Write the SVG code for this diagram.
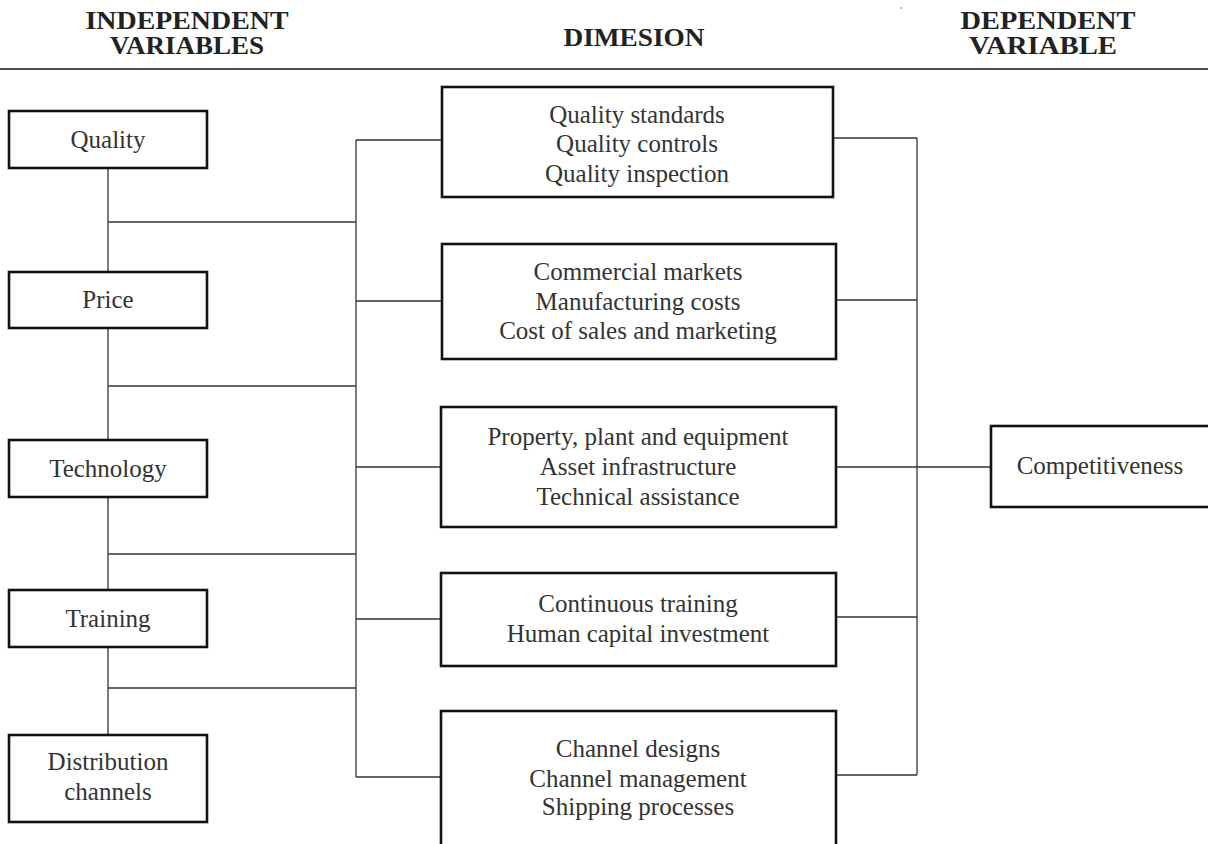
<svg xmlns="http://www.w3.org/2000/svg" width="1208" height="844" viewBox="0 0 1208 844">
  <style>
    .hdr { font-family: "Liberation Serif", "Times New Roman", serif; font-weight: bold; font-size: 25px; fill: #222; text-anchor: middle; }
    .lbl { font-family: "Liberation Serif", "Times New Roman", serif; font-size: 25px; fill: #333; text-anchor: middle; }
    .box { fill: #fff; stroke: #111; stroke-width: 2.6; }
    .con { fill: none; stroke: #333; stroke-width: 1.3; }
    .rule { stroke: #111; stroke-width: 1.4; }
  </style>
  <rect x="0" y="0" width="1208" height="844" fill="#fff"/>

  <g id="header">
    <text class="hdr" x="187" y="29" textLength="203" lengthAdjust="spacingAndGlyphs">INDEPENDENT</text>
    <text class="hdr" x="187" y="54" textLength="154" lengthAdjust="spacingAndGlyphs">VARIABLES</text>
    <text class="hdr" x="634" y="46" textLength="141" lengthAdjust="spacingAndGlyphs">DIMESION</text>
    <text class="hdr" x="1048" y="29" textLength="175" lengthAdjust="spacingAndGlyphs">DEPENDENT</text>
    <text class="hdr" x="1043" y="54" textLength="148" lengthAdjust="spacingAndGlyphs">VARIABLE</text>
    <line class="rule" x1="0" y1="69" x2="1208" y2="69"/>
    <circle cx="901" cy="8" r="0.8" fill="#666"/>
  </g>

  <g id="connectors">
    <!-- left spine -->
    <line class="con" x1="108" y1="168" x2="108" y2="272"/>
    <line class="con" x1="108" y1="328" x2="108" y2="440"/>
    <line class="con" x1="108" y1="497" x2="108" y2="590"/>
    <line class="con" x1="108" y1="647" x2="108" y2="735"/>
    <!-- left horizontals to bus -->
    <line class="con" x1="108" y1="222" x2="356" y2="222"/>
    <line class="con" x1="108" y1="386" x2="356" y2="386"/>
    <line class="con" x1="108" y1="554" x2="356" y2="554"/>
    <line class="con" x1="108" y1="688" x2="356" y2="688"/>
    <!-- bus -->
    <line class="con" x1="356" y1="140" x2="356" y2="777"/>
    <line class="con" x1="356" y1="140" x2="442" y2="140"/>
    <line class="con" x1="356" y1="301" x2="442" y2="301"/>
    <line class="con" x1="356" y1="467" x2="441" y2="467"/>
    <line class="con" x1="356" y1="619" x2="441" y2="619"/>
    <line class="con" x1="356" y1="777" x2="441" y2="777"/>
    <!-- right bus -->
    <line class="con" x1="833" y1="138" x2="917" y2="138"/>
    <line class="con" x1="836" y1="300" x2="917" y2="300"/>
    <line class="con" x1="836" y1="467" x2="991" y2="467"/>
    <line class="con" x1="836" y1="617" x2="917" y2="617"/>
    <line class="con" x1="836" y1="775" x2="917" y2="775"/>
    <line class="con" x1="917" y1="138" x2="917" y2="775"/>
  </g>

  <g id="quality">
    <rect class="box" x="9" y="111" width="198" height="57"/>
    <text class="lbl" x="108" y="148">Quality</text>
  </g>
  <g id="price">
    <rect class="box" x="9" y="272" width="198" height="56"/>
    <text class="lbl" x="108" y="308">Price</text>
  </g>
  <g id="technology">
    <rect class="box" x="9" y="440" width="198" height="57"/>
    <text class="lbl" x="108" y="477">Technology</text>
  </g>
  <g id="training">
    <rect class="box" x="9" y="590" width="198" height="57"/>
    <text class="lbl" x="108" y="627">Training</text>
  </g>
  <g id="distribution">
    <rect class="box" x="9" y="735" width="198" height="87"/>
    <text class="lbl" x="108" y="770">Distribution</text>
    <text class="lbl" x="108" y="800">channels</text>
  </g>

  <g id="dim-quality">
    <rect class="box" x="442" y="87" width="391" height="110"/>
    <text class="lbl" x="637" y="123">Quality standards</text>
    <text class="lbl" x="637" y="152">Quality controls</text>
    <text class="lbl" x="637" y="182">Quality inspection</text>
  </g>
  <g id="dim-price">
    <rect class="box" x="442" y="244" width="394" height="115"/>
    <text class="lbl" x="638" y="280">Commercial markets</text>
    <text class="lbl" x="638" y="310">Manufacturing costs</text>
    <text class="lbl" x="638" y="339">Cost of sales and marketing</text>
  </g>
  <g id="dim-technology">
    <rect class="box" x="441" y="407" width="395" height="120"/>
    <text class="lbl" x="638" y="445">Property, plant and equipment</text>
    <text class="lbl" x="638" y="475">Asset infrastructure</text>
    <text class="lbl" x="638" y="505">Technical assistance</text>
  </g>
  <g id="dim-training">
    <rect class="box" x="441" y="573" width="395" height="93"/>
    <text class="lbl" x="638" y="612">Continuous training</text>
    <text class="lbl" x="638" y="642">Human capital investment</text>
  </g>
  <g id="dim-distribution">
    <rect class="box" x="441" y="711" width="395" height="145"/>
    <text class="lbl" x="638" y="757">Channel designs</text>
    <text class="lbl" x="638" y="787">Channel management</text>
    <text class="lbl" x="638" y="815">Shipping processes</text>
  </g>

  <g id="competitiveness">
    <rect class="box" x="991" y="426" width="230" height="81"/>
    <text class="lbl" x="1100" y="474">Competitiveness</text>
  </g>
</svg>
